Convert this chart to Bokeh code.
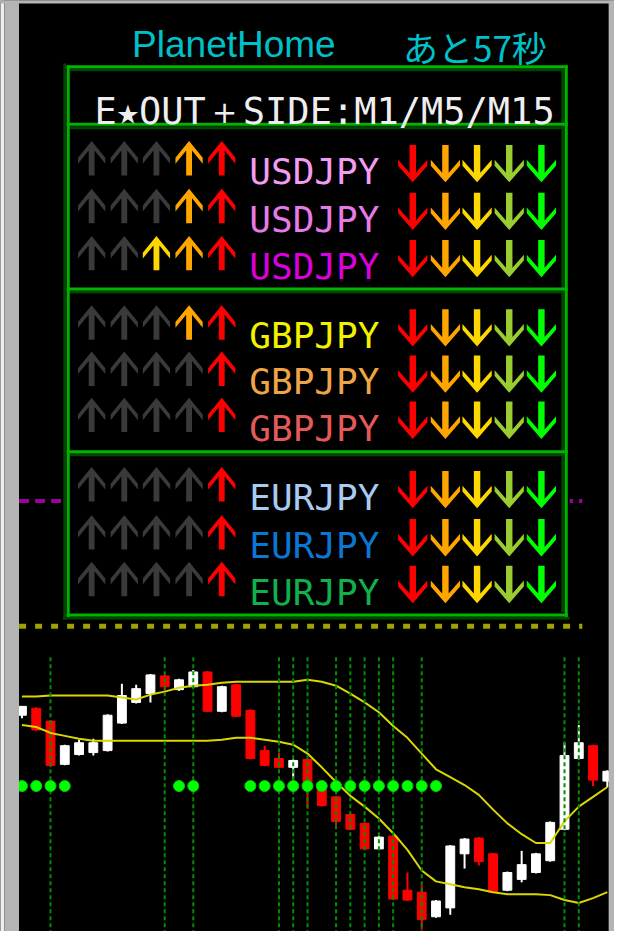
from bokeh.plotting import figure
from bokeh.models import Range1d, ColumnDataSource
from bokeh.core.properties import value
from bokeh.embed import file_html
from bokeh.resources import INLINE

# ---------------- data ----------------
bar_index = list(range(42))
open_ = [157.23, 157.30, 157.17, 156.73, 156.83, 156.85, 156.87, 157.15, 157.36, 157.45,
         157.63, 157.49, 157.52, 157.67, 157.27, 157.54, 157.28, 156.87, 156.79, 156.70,
         156.78, 156.50, 156.40, 156.22, 156.13, 155.87, 156.00, 155.45, 155.43, 155.18,
         155.27, 155.82, 155.98, 155.82, 155.45, 155.56, 155.63, 155.75, 156.07, 156.79,
         156.92, 156.56]
high = [157.32, 157.31, 157.18, 156.93, 156.98, 156.99, 157.24, 157.55, 157.54, 157.65,
        157.64, 157.60, 157.69, 157.68, 157.53, 157.55, 157.29, 156.92, 156.85, 156.78,
        156.79, 156.51, 156.41, 156.23, 156.14, 156.00, 156.01, 155.63, 155.50, 155.35,
        155.91, 155.98, 155.99, 155.83, 155.64, 155.85, 155.83, 156.15, 156.95, 157.13,
        156.93, 156.67]
low = [157.20, 157.07, 156.70, 156.72, 156.82, 156.82, 156.86, 157.14, 157.35, 157.36,
       157.45, 157.48, 157.51, 157.26, 157.26, 157.21, 156.78, 156.71, 156.69, 156.58,
       156.28, 156.30, 156.11, 156.06, 155.86, 155.86, 155.35, 155.34, 155.05, 155.17,
       155.20, 155.67, 155.70, 155.42, 155.44, 155.53, 155.62, 155.74, 156.06, 156.78,
       156.51, 156.50]
close = [157.32, 157.08, 156.72, 156.92, 156.95, 156.95, 157.23, 157.43, 157.50, 157.64,
         157.52, 157.59, 157.67, 157.27, 157.52, 157.22, 156.79, 156.72, 156.70, 156.77,
         156.50, 156.31, 156.15, 156.07, 155.87, 155.99, 155.36, 155.35, 155.15, 155.34,
         155.90, 155.97, 155.74, 155.43, 155.63, 155.71, 155.82, 156.14, 156.82, 156.95,
         156.57, 156.66]
upper_band = [157.42, 157.42, 157.43, 157.43, 157.43, 157.43, 157.43, 157.41, 157.39, 157.44,
              157.47, 157.51, 157.53, 157.54, 157.56, 157.57, 157.57, 157.57, 157.57, 157.57,
              157.59, 157.57, 157.53, 157.45, 157.36, 157.26, 157.12, 157.00, 156.84, 156.68,
              156.60, 156.52, 156.42, 156.27, 156.13, 156.02, 155.93, 155.93, 156.15, 156.30,
              156.40, 156.50]
lower_band = [157.13, 157.11, 157.05, 157.02, 156.99, 156.97, 156.97, 156.97, 156.97, 156.97,
              156.97, 156.97, 156.97, 156.97, 156.98, 157.00, 157.00, 156.98, 156.96, 156.93,
              156.84, 156.70, 156.55, 156.41, 156.30, 156.18, 156.03, 155.86, 155.65, 155.54,
              155.51, 155.48, 155.46, 155.43, 155.41, 155.41, 155.41, 155.40, 155.35, 155.32,
              155.37, 155.43]
signal_bars = [2, 10, 12, 18, 19, 20, 22, 23, 24, 25, 26, 28, 38, 39]
signal_top = 157.82
dot_bars = [0, 1, 2, 3, 11, 12, 16, 17, 18, 19, 20, 21, 22, 23, 24, 25, 26, 27, 28, 29]
dot_level = 156.51
magenta_level = 159.41
dotted_level = 158.135
level_start_bar = -0.2
level_end_bar = 39.25

title_text = "PlanetHome"
timer_text = "あと57秒"
header_text = "E★OUT＋SIDE:M1/M5/M15"
symbols = ["USDJPY", "USDJPY", "USDJPY", "GBPJPY", "GBPJPY", "GBPJPY",
           "EURJPY", "EURJPY", "EURJPY"]
symbol_colors = ["#f29cf2", "#e87ae8", "#dc00dc", "#f2f200", "#f0a448", "#e45a5a",
                 "#a8ccf0", "#0a78d2", "#10b04c"]
G = "#3a3a3a"
up_colors = [
    [G, G, G, "#ffa500", "#ff0000"],
    [G, G, G, "#ffa500", "#ff0000"],
    [G, G, "#ffd700", "#ffa500", "#ff0000"],
    [G, G, G, "#ffa500", "#ff0000"],
    [G, G, G, G, "#ff0000"],
    [G, G, G, G, "#ff0000"],
    [G, G, G, G, "#ff0000"],
    [G, G, G, G, "#ff0000"],
    [G, G, G, G, "#ff0000"],
]
down_colors = ["#ff0000", "#ffa500", "#ffd700", "#9acd32", "#00ff00"]

# ---------------- layout (screen positions in a 630 x 947 frame) ----------------
row_y = [160.5, 209, 257, 327.5, 374.5, 421.5, 492, 541, 588.5]
up_x = [93.5, 127, 160, 193.5, 227]
down_x = [423, 456.5, 489, 522, 555]
UP = [(0, -17.5), (14, -0.5), (14, 5.5), (3, -7.9), (3, 17.5), (-3, 17.5), (-3, -7.9), (-14, 5.5), (-14, -0.5)]
DOWN = [(0, 19), (15, 2), (15, -4), (3.3, 9.3), (3.3, -19), (-3.3, -19), (-3.3, 9.3), (-15, -4), (-15, 2)]

p = figure(width=614, height=931, x_range=Range1d(0, 630), y_range=Range1d(947, 0),
           output_backend="svg", toolbar_location=None,
           x_axis_location=None, y_axis_location=None,
           min_border_left=0, min_border_right=0, min_border_top=0, min_border_bottom=0,
           background_fill_color="#000000", border_fill_color="#000000",
           outline_line_color=None)
p.grid.visible = False

# bar i sits at x = 22 + 14.65 i ; price = 164.50 - y / 100
p.extra_x_ranges = {"bar": Range1d(-22 / 14.65, (630 - 22) / 14.65)}
p.extra_y_ranges = {"price": Range1d(164.50 - 9.47, 164.50)}
R = dict(x_range_name="bar", y_range_name="price")

# level lines
p.segment(x0=[level_start_bar], y0=[magenta_level], x1=[level_end_bar], y1=[magenta_level],
          line_color="#9c009c", line_width=4, line_dash="10 6", **R)
p.segment(x0=[level_start_bar], y0=[dotted_level], x1=[level_end_bar], y1=[dotted_level],
          line_color="#a0a000", line_width=5, line_dash="7 9", **R)

# candles
bull = [c >= o for o, c in zip(open_, close)]
ccol = ["#ffffff" if b else "#ff0000" for b in bull]
src = ColumnDataSource(dict(
    x=bar_index, high=high, low=low,
    top=[max(o, c) for o, c in zip(open_, close)],
    bottom=[min(o, c) for o, c in zip(open_, close)],
    color=ccol))
p.segment(x0="x", y0="high", x1="x", y1="low", source=src, line_color="color", line_width=2, **R)
p.vbar(x="x", top="top", bottom="bottom", width=0.62, source=src,
       fill_color="color", line_color="color", line_width=1, **R)

# bands
p.line(bar_index, upper_band, line_color="#d8d800", line_width=2, **R)
p.line(bar_index, lower_band, line_color="#d8d800", line_width=2, **R)

# signal lines and dots
p.segment(x0=signal_bars, y0=[signal_top] * len(signal_bars), x1=signal_bars,
          y1=[155.0] * len(signal_bars), line_color="#009000", line_width=2,
          line_dash="4 3", **R)
p.scatter(dot_bars, [dot_level] * len(dot_bars), size=11, fill_color="#00ff00",
          line_color="#00d000", line_width=1, **R)

# ---------------- panel ----------------
p.quad(left=[64], right=[584], top=[64], bottom=[630], fill_color="#000000", line_color=None)
DK = "#004600"
BR = "#00b400"
p.segment(x0=[66, 577, 71, 71, 71, 71, 64], y0=[64, 70, 70.5, 129.5, 296.5, 462, 628],
          x1=[66, 577, 578, 578, 578, 578, 584], y1=[630, 622, 70.5, 129.5, 296.5, 462, 628],
          line_color=DK, line_width=3)
p.segment(x0=[69.5, 580.5, 68, 68, 68, 68, 68], y0=[66, 66, 67.5, 126, 293.5, 459, 625],
          x1=[69.5, 580.5, 582, 582, 582, 582, 582], y1=[627, 627, 67.5, 126, 293.5, 459, 625],
          line_color=BR, line_width=3)

xs, ys, fc = [], [], []
for r, cy in enumerate(row_y):
    for k, cx in enumerate(up_x):
        xs.append([cx + dx for dx, dy in UP])
        ys.append([cy + dy for dx, dy in UP])
        fc.append(up_colors[r][k])
    for k, cx in enumerate(down_x):
        xs.append([cx + dx for dx, dy in DOWN])
        ys.append([cy + 5.5 + dy for dx, dy in DOWN])
        fc.append(down_colors[k])
p.patches(xs=xs, ys=ys, fill_color=fc, line_color=None)

p.text(x=[135], y=[45], text=[title_text], text_font=value("Liberation Sans"),
       text_font_size=value("37px"), text_color="#00c0c8", text_align="left",
       text_baseline="alphabetic")
p.text(x=[413], y=[47], text=[timer_text], text_font=value("Noto Sans CJK JP"),
       text_font_size=value("35px"), text_color="#00c0c8", text_align="left",
       text_baseline="alphabetic")
p.text(x=[332.5], y=[113], text=[header_text], text_font=value("DejaVu Sans Mono"),
       text_font_size=value("37px"), text_color="#eeeeee", text_align="center",
       text_baseline="alphabetic")
lab = ColumnDataSource(dict(x=[322] * 9, y=[c + 13.5 for c in row_y], text=symbols,
                            color=symbol_colors))
p.text(x="x", y="y", text="text", source=lab, text_color="color",
       text_font=value("DejaVu Sans Mono"), text_font_size=value("36px"),
       text_align="center", text_baseline="alphabetic")

# window frame strips
p.quad(left=[0, 4, 624, 0], right=[4, 19, 630, 630], top=[0, 0, 0, 0], bottom=[947, 947, 947, 3],
       fill_color=["#eeeeee", "#b4b4b4", "#b4b4b4", "#b4b4b4"], line_color=None)

open("out.html", "w").write(file_html(p, INLINE))
